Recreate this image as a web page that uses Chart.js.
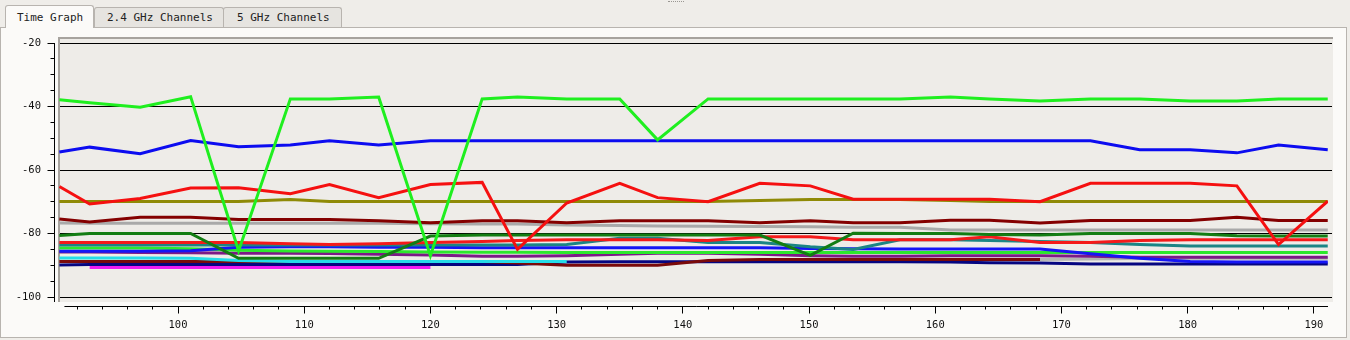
<!DOCTYPE html>
<html>
<head>
<meta charset="utf-8">
<title>Time Graph</title>
<script src="https://cdn.jsdelivr.net/npm/chart.js@4.4.0/dist/chart.umd.min.js"></script>
<style>
  html, body { margin: 0; padding: 0; }
  body {
    width: 1350px; height: 340px; overflow: hidden; position: relative;
    background: #efede9;
    font-family: "DejaVu Sans Mono", monospace; font-size: 11px; color: #222;
  }
  .grip { position: absolute; left: 668px; top: 1px; width: 16px; border-top: 1px dotted #9a9792; }
  .tab {
    position: absolute; box-sizing: border-box; white-space: nowrap;
    border: 1px solid #b8b4af; border-bottom: none; border-radius: 3px 3px 0 0;
    background: #e6e4e0; line-height: 20px;
  }
  .tab.sel { background: #fbfaf8; z-index: 2; line-height: 23px; }
  #panel {
    position: absolute; left: 0; top: 27px; width: 1347px; height: 311px;
    box-sizing: border-box; border: 1px solid #b8b4af; background: #fbfaf8;
  }
  #chart { position: absolute; left: 0; top: 0; z-index: 3; }
</style>
</head>
<body>
<div class="grip"></div>
<div id="panel"></div>
<div class="tab sel" style="left:5px; top:5px; width:89px; height:23px; padding-left:11px;">Time Graph</div>
<div class="tab" style="left:94px; top:7px; width:130px; height:20px; padding-left:12px;">2.4 GHz Channels</div>
<div class="tab" style="left:223px; top:7px; width:119px; height:20px; padding-left:13px;">5 GHz Channels</div>
<canvas id="chart" width="1350" height="340"></canvas>
<script>
// sample times (x axis) shared by all series
const times = [90.6, 93.0, 97.0, 101.0, 104.8, 108.9, 112.0, 115.9, 120.0, 124.1, 126.9, 130.8, 135.0, 138.0,
               142.0, 146.1, 150.1, 153.5, 157.2, 161.2, 164.3, 168.3, 172.3, 176.2, 180.2, 183.9, 187.2, 191.1];

// signal levels (dBm), one array per network
const green = [-37.9, -38.8, -40.2, -36.9, -85.5, -37.6, -37.6, -37.0, -87.0, -37.6, -37.0, -37.6, -37.6, -50.5,
               -37.6, -37.6, -37.6, -37.6, -37.6, -37.0, -37.6, -38.3, -37.6, -37.6, -38.3, -38.3, -37.6, -37.6];
const red = [-65.2, -70.7, -69.0, -65.7, -65.6, -67.5, -64.6, -68.7, -64.6, -63.9, -85.0, -70.4, -64.2, -68.7,
             -70.0, -64.2, -65.0, -69.2, -69.2, -69.2, -69.2, -70.0, -64.2, -64.2, -64.2, -65.0, -83.5, -69.8];
const blue = [-54.3, -52.8, -54.9, -50.7, -52.7, -52.1, -50.8, -52.1, -50.8, -50.8, -50.8, -50.8, -50.8, -50.8,
              -50.8, -50.8, -50.8, -50.8, -50.8, -50.8, -50.8, -50.8, -50.8, -53.6, -53.6, -54.6, -52.1, -53.6];
const olive = [-69.9, -69.9, -69.9, -69.9, -69.9, -69.3, -69.9, -69.9, -69.9, -69.9, -69.9, -69.9, -69.9, -69.9,
               -69.9, -69.6, -69.3, -69.3, -69.3, -69.6, -69.9, -69.9, -69.9, -69.9, -69.9, -69.9, -69.9, -69.9];
const darkRed = [-75.4, -76.4, -74.9, -74.9, -75.6, -75.6, -75.6, -76.0, -76.6, -76.0, -76.0, -76.6, -76.0, -76.0,
                 -76.0, -76.6, -76.0, -76.6, -76.6, -75.8, -75.8, -76.7, -75.9, -75.9, -75.9, -74.9, -75.9, -75.9];
const grey = [-76.7, -76.8, -76.8, -76.8, -76.8, -76.8, -76.8, -76.8, -76.9, -77.0, -77.0, -77.3, -77.5, -77.6,
              -77.7, -77.8, -77.9, -78.0, -78.0, -78.9, -78.9, -78.9, -78.9, -78.9, -78.9, -78.9, -78.9, -78.9];
const darkGreen = [-80.6, -80.0, -80.0, -80.0, -87.8, -87.8, -87.8, -87.8, -80.8, -80.5, -80.5, -80.5, -80.5, -80.5,
                   -80.5, -80.5, -86.9, -79.9, -80.0, -80.0, -80.3, -80.5, -80.0, -80.0, -80.0, -80.7, -80.8, -80.8];
const red2 = [-82.8, -82.8, -82.8, -82.8, -82.8, -83.2, -83.5, -83.2, -82.8, -82.5, -82.2, -82.0, -82.0, -82.0,
              -82.2, -81.0, -81.0, -82.0, -82.0, -82.0, -81.0, -82.8, -82.8, -82.2, -82.0, -82.0, -82.0, -82.0];
const teal = [-83.6, -83.6, -83.6, -83.6, -83.6, -83.6, -83.6, -83.6, -83.6, -83.6, -83.6, -83.5, -81.5, -81.5,
              -82.8, -82.8, -84.2, -85.0, -82.0, -82.0, -82.2, -82.5, -82.8, -83.5, -83.9, -83.9, -83.9, -83.9];
const blue2 = [-85.6, -85.6, -85.6, -85.4, -84.3, -84.2, -84.2, -84.3, -84.3, -84.5, -84.5, -84.5, -84.5, -84.5,
               -84.5, -84.5, -84.7, -84.8, -84.9, -84.9, -84.9, -84.9, -86.4, -87.8, -88.8, -89.0, -89.0, -89.0];
const green2 = [-84.6, -84.6, -84.6, -84.8, -85.3, -85.5, -85.6, -85.7, -85.8, -85.9, -85.9, -86.0, -86.0, -86.0,
                -86.0, -86.0, -86.0, -86.0, -86.0, -86.0, -86.0, -86.0, -86.0, -86.0, -86.0, -86.0, -86.0, -86.0];
const purple = [-85.8, -85.8, -86.0, -86.1, -86.2, -86.2, -86.3, -86.5, -86.8, -87.2, -87.2, -87.0, -86.5, -86.2,
                -86.2, -86.5, -87.0, -87.2, -87.2, -87.0, -87.0, -87.0, -87.2, -87.5, -87.5, -87.5, -87.5, -87.5];
const cyan = [-87.7, -87.7, -87.7, -87.8, -88.5, -88.8, -88.8, -88.8, -88.8, -88.8, -88.8, -88.8, null, null,
              null, null, null, null, null, null, null, null, null, null, null, null, null, null];
const maroon = [-88.8, -88.8, -88.8, -88.8, -88.8, -88.8, -88.8, -88.8, -88.8, -88.8, -89.3, -90.0, -90.0, -90.0,
                -88.5, -88.2, -88.2, -88.2, -88.2, -88.2, -88.2, -88.2, null, null, null, null, null, null];
const navy = [-89.9, -89.8, -89.8, -89.8, -89.8, -89.8, -89.8, -89.8, -89.8, -89.8, -89.8, -89.0, -88.9, -88.9,
              -88.9, -88.9, -88.9, -88.9, -88.9, -89.0, -89.2, -89.3, -89.6, -89.6, -89.6, -89.6, -89.6, -89.6];
const magenta = [null, -90.7, -90.7, -90.7, -90.7, -90.7, -90.7, -90.7, -90.7, null, null, null, null, null,
                 null, null, null, null, null, null, null, null, null, null, null, null, null, null];
const lightGrey = [null, null, null, null, null, null, null, null, null, null, null, null, null, null,
                   null, null, null, null, null, null, null, -88.2, -88.0, -87.9, -87.8, -87.8, -87.8, -87.8];

// axis ticks
const xTicks = [100, 110, 120, 130, 140, 150, 160, 170, 180, 190];
const yTicks = [-20, -40, -60, -80, -100];

// first entry is drawn on top
const SERIES = [
  [green, '#1fef1f'], [red, '#f51010'], [blue, '#0c0cf0'], [olive, '#8f8a06'],
  [darkRed, '#840000'], [grey, '#a9a9a9'], [darkGreen, '#137d13'], [red2, '#f41a1a'],
  [teal, '#1b8585'], [blue2, '#1515f5'], [green2, '#2ce82c'], [purple, '#7c1a86'],
  [cyan, '#25dbe8'], [maroon, '#7a0a0a'], [navy, '#050580'], [magenta, '#f21cf2'],
  [lightGrey, '#b3b3b3']
];

const FONT = { family: 'DejaVu Sans Mono', size: 10.5 };

// plot panel, grid lines, axis lines with major and minor ticks
const framePlugin = {
  id: 'frame',
  beforeDatasetsDraw(chart) {
    const { ctx, chartArea: a, scales: { x, y } } = chart;
    ctx.save();
    ctx.fillStyle = '#eeece8';
    ctx.fillRect(a.left - 1, a.top - 6, a.right - a.left + 6, a.bottom - a.top + 11);
    ctx.fillStyle = '#a7a39e';
    ctx.fillRect(a.left - 1, a.top - 6, a.right - a.left + 6, 2);
    ctx.fillRect(a.left - 1, a.top - 6, 2, a.bottom - a.top + 11);

    ctx.strokeStyle = '#000';
    ctx.lineWidth = 1;
    ctx.beginPath();
    yTicks.forEach(v => {
      const py = Math.floor(y.getPixelForValue(v)) + 0.5;
      ctx.moveTo(a.left + 1, py);
      ctx.lineTo(a.right + 4, py);
    });

    // y axis
    const ax = Math.floor(a.left) - 4.5;
    ctx.moveTo(ax, Math.floor(y.getPixelForValue(-20)));
    ctx.lineTo(ax, a.bottom + 5);
    for (let v = -20; v >= -100; v -= 5) {
      const py = Math.floor(y.getPixelForValue(v)) + 0.5;
      ctx.moveTo(ax, py);
      ctx.lineTo(ax - (v % 20 === 0 ? 7 : 4), py);
    }

    // x axis
    const ay = Math.floor(a.bottom) + 9.5;
    ctx.moveTo(x.getPixelForValue(91), ay);
    ctx.lineTo(a.right, ay);
    for (let v = 92; v <= 190; v += 2) {
      const px = Math.floor(x.getPixelForValue(v)) + 0.5;
      ctx.moveTo(px, ay);
      ctx.lineTo(px, ay + (v % 10 === 0 ? 7 : 3));
    }
    ctx.stroke();
    ctx.restore();
  }
};

new Chart(document.getElementById('chart'), {
  type: 'line',
  data: {
    datasets: SERIES.map(([values, color]) => ({
      data: times.map((t, i) => ({ x: t, y: values[i] })).filter(p => p.y !== null),
      borderColor: color,
      borderWidth: 3,
      pointRadius: 0,
      tension: 0,
      fill: false
    }))
  },
  options: {
    responsive: false,
    animation: false,
    layout: { padding: { top: 43, right: 22, left: 0, bottom: 0 } },
    plugins: { legend: { display: false }, tooltip: { enabled: false } },
    scales: {
      x: {
        type: 'linear',
        min: 90.57,
        max: 191.12,
        afterBuildTicks: s => { s.ticks = xTicks.map(v => ({ value: v })); },
        afterFit: s => { s.height = 43; },
        grid: { display: false, drawTicks: false },
        border: { display: false },
        ticks: { font: FONT, color: '#111', padding: 22, maxRotation: 0 }
      },
      y: {
        min: -100,
        max: -20,
        afterBuildTicks: s => { s.ticks = yTicks.map(v => ({ value: v })); },
        afterFit: s => { s.width = 59; },
        grid: { display: false, drawTicks: false },
        border: { display: false },
        ticks: { font: FONT, color: '#111', padding: 18 }
      }
    }
  },
  plugins: [framePlugin]
});
</script>
</body>
</html>
